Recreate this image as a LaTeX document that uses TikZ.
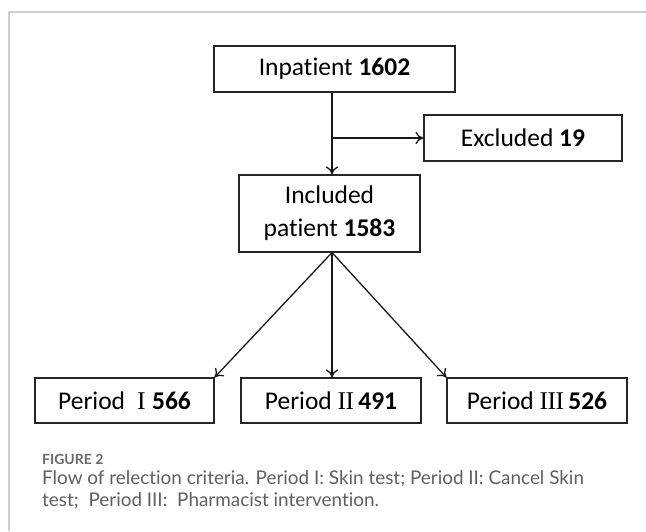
\documentclass[tikz,border=0pt]{standalone}
\usepackage{fontspec}
\usetikzlibrary{arrows.meta}
\newfontfamily\boxfont[Ligatures=NoCommon]{Carlito}
\newfontfamily\capfont[Ligatures=NoCommon]{Lato}
\newfontfamily\romfont{Liberation Serif}
\definecolor{framegray}{HTML}{CFCFCF}
\definecolor{capgray}{HTML}{606060}
\definecolor{figgray}{HTML}{6A6A6A}
\tikzset{
  flowbox/.style={draw=black!85, line width=1.1pt, fill=white, inner sep=0pt, align=center,
    font=\boxfont\fontsize{25.5}{33}\selectfont},
  conn/.style={line width=1.3pt, draw=black!90, -{To[length=8pt,width=12pt,line width=1.3pt]}},
  capnode/.style={anchor=west, inner sep=0pt, text=capgray},
}
\newcommand{\capsize}{\capfont\fontsize{18.9}{22}\selectfont}
\begin{document}
\begin{tikzpicture}[x=1pt,y=-1pt]
\useasboundingbox (0,0) rectangle (646,531);
\fill[white] (0,0) rectangle (646,531);
% frame
\draw[framegray, line width=1.4pt] (9,531) -- (9,12) -- (646,12);
% boxes
\node[flowbox, minimum width=241pt, minimum height=46pt] (inp) at (334.5,69) {Inpatient \textbf{1602}};
\node[flowbox, minimum width=198pt, minimum height=46pt] (exc) at (523,138) {Excluded \textbf{19}};
\node[flowbox, minimum width=181pt, minimum height=77pt] (inc) at (329.5,213.5) {Included\\patient \textbf{1583}};
\node[flowbox, minimum width=179pt, minimum height=45pt] (p1) at (124.5,400.5) {Period {\romfont\ I\ }\textbf{566}};
\node[flowbox, minimum width=180pt, minimum height=45pt] (p2) at (331,400.5) {Period {\romfont I\kern-0.5ptI}\,\textbf{491}};
\node[flowbox, minimum width=180pt, minimum height=45pt] (p3) at (537,400.5) {Period {\romfont I\kern-0.5ptI\kern-0.5ptI}\,\textbf{526}};
% connectors
\coordinate (br) at (332,138);
\draw[conn] (inp.south -| br) -- (inc.north -| br);
\draw[conn] (br) -- (exc.west);
\draw[conn] (inc.south -| br) -- (p1.north east);
\draw[conn] (inc.south -| br) -- (p2.north -| br);
\draw[conn] (inc.south -| br) -- (p3.north west);
% caption
\node[capnode, text=figgray] (fig) at (42,459) {\capfont\bfseries\fontsize{14}{16}\selectfont FIGURE 2};
\node[capnode] (cap1) at (42,479) {\capsize Flow of relection criteria. Period I: Skin test; Period II: Cancel Skin};
\node[capnode] (cap2) at (42,501) {\capsize test;\ \ Period III:\ \ Pharmacist intervention.};
\end{tikzpicture}
\end{document}
